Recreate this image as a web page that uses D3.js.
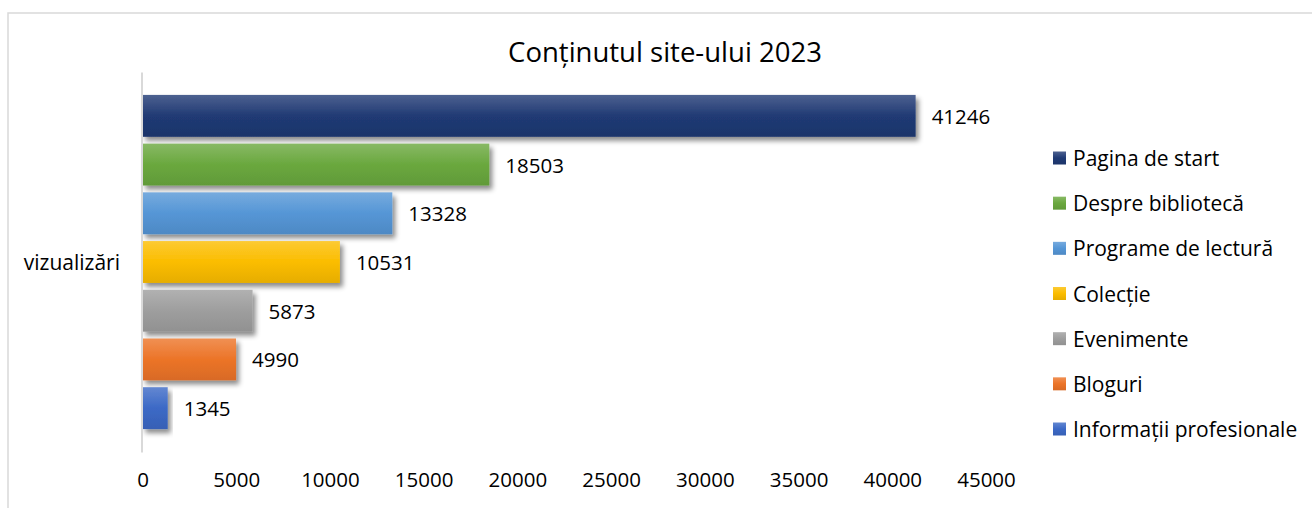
<!DOCTYPE html>
<html>
<head>
<meta charset="utf-8">
<script src="https://cdn.jsdelivr.net/npm/d3@7"></script>
<style>
  html, body { margin: 0; padding: 0; background: #fff; }
  svg { display: block; }
  text { font-family: "Open Sans", sans-serif; fill: #000; }
</style>
</head>
<body>
<svg id="chart" width="1312" height="508"></svg>
<script>
const title = "Conținutul site-ului 2023";
const category = ["vizualizări"];
const seriesNames = ["Pagina de start", "Despre bibliotecă", "Programe de lectură", "Colecție", "Evenimente", "Bloguri", "Informații profesionale"];
const seriesValues = [41246, 18503, 13328, 10531, 5873, 4990, 1345];
const seriesColors = ["#203a74", "#6aa83e", "#5596d6", "#fbbd00", "#9e9e9e", "#ec7428", "#3c69c6"];
const tickValues = [0, 5000, 10000, 15000, 20000, 25000, 30000, 35000, 40000, 45000];

const svg = d3.select("#chart");
const W = 1312, H = 508;

// chart border
svg.append("rect")
  .attr("x", 8).attr("y", 13).attr("width", W + 10).attr("height", H + 10)
  .attr("fill", "#fff").attr("stroke", "#d9d9d9").attr("stroke-width", 1.5);

const defs = svg.append("defs");
const shadow = defs.append("filter").attr("id", "shadow")
  .attr("x", "-10%").attr("y", "-20%").attr("width", "130%").attr("height", "160%");
shadow.append("feDropShadow")
  .attr("dx", 3).attr("dy", 4).attr("stdDeviation", 2.5)
  .attr("flood-color", "#000").attr("flood-opacity", 0.45);

seriesColors.forEach((c, i) => {
  const g = defs.append("linearGradient").attr("id", "grad" + i)
    .attr("x1", 0).attr("y1", 0).attr("x2", 0).attr("y2", 1);
  const base = d3.color(c);
  g.append("stop").attr("offset", "0%").attr("stop-color", d3.interpolateRgb(base, "#ffffff")(0.2));
  g.append("stop").attr("offset", "50%").attr("stop-color", base.formatHex());
  g.append("stop").attr("offset", "100%").attr("stop-color", base.darker(0.25).formatHex());
});

// scales
const x = d3.scaleLinear().domain([0, 45000]).range([142.5, 986]);
const yCat = d3.scaleBand().domain(category).range([72, 452]).paddingInner(0).paddingOuter(0);
const ySer = d3.scaleBand().domain(seriesNames)
  .range([yCat(category[0]) + 19.5, yCat(category[0]) + yCat.bandwidth() - 19.5])
  .paddingInner(0.14).paddingOuter(0.07);

// title
svg.append("text")
  .attr("x", 665).attr("y", 61.5)
  .attr("text-anchor", "middle")
  .style("font-size", "27.5px")
  .text(title);

// bars
const bars = svg.append("g");
bars.selectAll("rect").data(seriesNames).join("rect")
  .attr("x", x(0))
  .attr("y", d => ySer(d))
  .attr("width", (d, i) => x(seriesValues[i]) - x(0))
  .attr("height", ySer.bandwidth())
  .attr("fill", (d, i) => `url(#grad${i})`)
  .attr("filter", "url(#shadow)");

// category axis line
const yAxis = d3.axisLeft(yCat).tickSize(0).tickFormat("");
const yg = svg.append("g").attr("transform", `translate(${x(0) - 1},0)`).call(yAxis);
yg.select(".domain").attr("stroke", "#d9d9d9").attr("stroke-width", 2);

// category label
svg.append("text")
  .attr("x", 120).attr("y", yCat(category[0]) + yCat.bandwidth() / 2)
  .attr("text-anchor", "end").attr("dominant-baseline", "central")
  .style("font-size", "21px")
  .text(category[0]);

// data labels
svg.append("g").selectAll("text").data(seriesNames).join("text")
  .attr("x", (d, i) => x(seriesValues[i]) + 16)
  .attr("y", d => ySer(d) + ySer.bandwidth() / 2)
  .attr("dominant-baseline", "central")
  .style("font-size", "20.5px")
  .text((d, i) => seriesValues[i]);

// x axis (labels only)
const xAxis = d3.axisBottom(x).tickValues(tickValues).tickSize(0).tickPadding(0).tickFormat(d3.format("d"));
const xg = svg.append("g").attr("transform", "translate(0,472)").call(xAxis);
xg.select(".domain").remove();
xg.selectAll("text").style("font-size", "20.5px").style("font-family", "'Open Sans', sans-serif").attr("fill", "#000");

// legend
const legend = svg.append("g");
const legY = d3.scalePoint().domain(seriesNames).range([158, 429]);
const items = legend.selectAll("g").data(seriesNames).join("g")
  .attr("transform", d => `translate(1053,${legY(d)})`);
items.append("rect")
  .attr("x", 0).attr("y", -6.5).attr("width", 13).attr("height", 13)
  .attr("fill", (d, i) => `url(#grad${i})`);
items.append("text")
  .attr("x", 20).attr("y", 0)
  .attr("dominant-baseline", "central")
  .style("font-size", "21px")
  .text(d => d);
</script>
</body>
</html>
